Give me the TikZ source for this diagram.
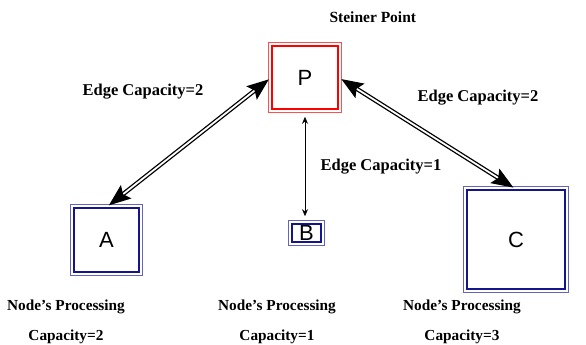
\documentclass[tikz,border=0pt]{standalone}
\usepackage{fontspec}
\setmainfont{Liberation Serif}
\setsansfont{Liberation Sans}
\usetikzlibrary{positioning,arrows.meta}

\definecolor{steinred}{RGB}{255,0,0}
\definecolor{rimred}{RGB}{255,80,80}
\definecolor{nodeblue}{RGB}{20,20,140}
\definecolor{rimblue}{RGB}{100,100,190}

\tikzset{
  box/.style={draw=#1, line width=1.6pt, fill=white, inner sep=0pt,
    font=\sffamily\fontsize{22}{22}\selectfont},
  rim/.style={draw=#1, line width=1.1pt},
  caption/.style={font=\bfseries\fontsize{15.3}{30}\selectfont, align=center},
  edgecap/.style={font=\bfseries\fontsize{16.5}{17}\selectfont},
  bigarrow/.style={double=white, double distance=1.8pt, line width=1.3pt,
    {Stealth[length=22pt,width=17pt,inset=4pt]}-{Stealth[length=22pt,width=17pt,inset=4pt]},
    shorten <=3pt, shorten >=3pt},
  thinarrow/.style={line width=0.8pt,
    {Stealth[length=7pt,width=6pt]}-{Stealth[length=7pt,width=6pt]},
    shorten <=7pt, shorten >=7pt}
}

\begin{document}
\begin{tikzpicture}[x=1pt, y=-1pt]
  \useasboundingbox (0,0) rectangle (586,345);

  % Steiner point and the three nodes
  \node[box=steinred, minimum width=66pt, minimum height=63pt] (P) at (305,77.5) {P};
  \node[box=nodeblue, minimum width=65pt, minimum height=64pt] (A) at (106.5,240) {A};
  \node[box=nodeblue, minimum width=29pt, minimum height=18pt] (B) at (306.5,233) {B};
  \node[box=nodeblue, minimum width=98pt, minimum height=99pt] (C) at (516,239.5) {C};

  % outer rims
  \foreach \n/\c in {P/rimred, A/rimblue, B/rimblue, C/rimblue}
    \draw[rim=\c] ([shift={(-2.8pt,-2.8pt)}]\n.south west) rectangle ([shift={(2.8pt,2.8pt)}]\n.north east);

  % Edges
  \draw[bigarrow] (A.north) -- (P.west);
  \draw[bigarrow] (P.east) -- (C.north);
  \draw[thinarrow] (P.south) -- (P.south |- B.north);

  % Labels
  \node[anchor=west, font=\bfseries\fontsize{15.5}{16}\selectfont] (steiner) at (326,17) {Steiner Point};
  \node[edgecap] (capAP) at (143,92) {Edge Capacity=2};
  \node[edgecap] (capPC) at (478,98) {Edge Capacity=2};
  \node[edgecap] (capPB) at (381,167) {Edge Capacity=1};

  \node[caption] (procA) at (66,322) {Node's Processing\\Capacity=2};
  \node[caption] (procB) at (277,322) {Node's Processing\\Capacity=1};
  \node[caption] (procC) at (462,322) {Node's Processing\\Capacity=3};
\end{tikzpicture}
\end{document}
